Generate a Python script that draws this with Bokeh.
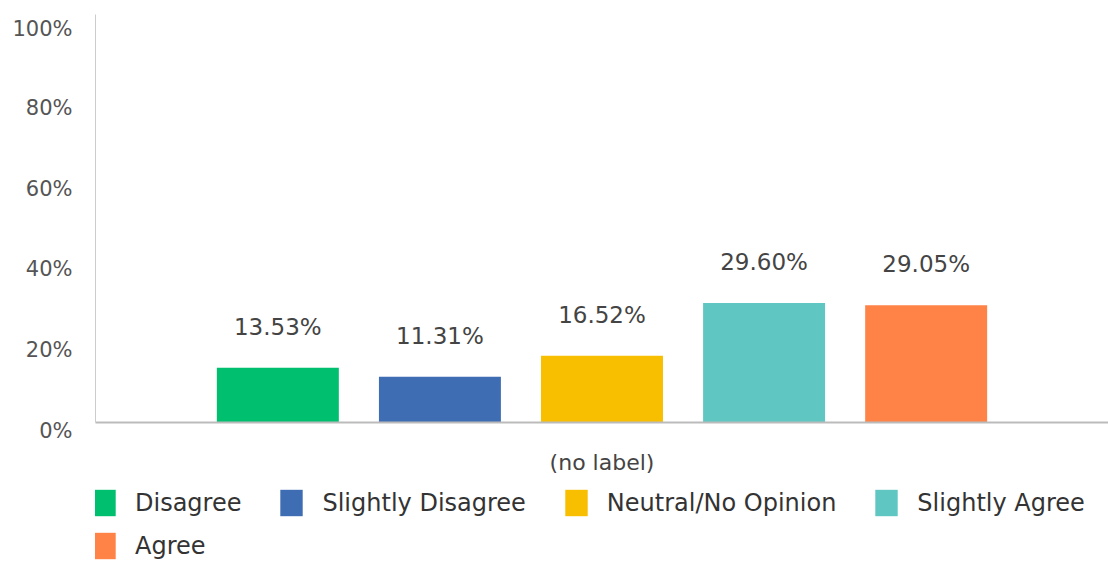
from bokeh.plotting import figure
from bokeh.layouts import column
from bokeh.models import Legend, LegendItem, Range1d, FactorRange, ColumnDataSource, FixedTicker, CustomJSTickFormatter
from bokeh.transform import dodge
from bokeh.core.properties import value
from bokeh.embed import file_html
from bokeh.resources import INLINE

categories = ["(no label)"]
series = ["Disagree", "Slightly Disagree", "Neutral/No Opinion", "Slightly Agree", "Agree"]
values = [13.53, 11.31, 16.52, 29.60, 29.05]
colors = ["#00BF6F", "#3F6DB3", "#F8BE00", "#5FC6C2", "#FF8246"]
yticks = [0, 20, 40, 60, 80, 100]

FONT = "DejaVu Sans"
step = 0.160
bar_w = 0.1204

p = figure(width=1108, height=484, output_backend="svg", toolbar_location=None,
           x_range=FactorRange(*categories, range_padding=0), y_range=Range1d(0, 101),
           min_border_left=95, min_border_right=0, min_border_top=14, min_border_bottom=62)
p.outline_line_color = None
p.xgrid.visible = False
p.ygrid.visible = False

for i, (s, v, c) in enumerate(zip(series, values, colors)):
    src = ColumnDataSource(dict(cat=categories, val=[v], txt=[f"{v:.2f}%"]))
    off = (i - 2) * step
    p.vbar(x=dodge("cat", off, range=p.x_range), top="val", width=bar_w, source=src,
           fill_color=c, line_color=None)
    p.text(x=dodge("cat", off, range=p.x_range), y="val", text="txt", source=src,
           y_offset=-41, text_align="center", text_baseline="middle",
           text_font=value(FONT), text_font_size="23px", text_color="#444444")

p.yaxis.ticker = FixedTicker(ticks=yticks)
# a leading empty line drops each label a little below its tick, as in the reference
p.yaxis.formatter = CustomJSTickFormatter(code="return '\\n' + tick + '%';")
p.yaxis.axis_line_color = "#cccccc"
p.yaxis.major_tick_line_color = None
p.yaxis.minor_tick_line_color = None
p.yaxis.major_label_standoff = 17
p.yaxis.major_label_text_line_height = 0.7
p.yaxis.major_label_text_font = FONT
p.yaxis.major_label_text_font_size = "21px"
p.yaxis.major_label_text_color = "#555555"

p.xaxis.axis_line_color = "#bbbbbb"
p.xaxis.axis_line_width = 2
p.xaxis.major_tick_line_color = None
p.xaxis.minor_tick_line_color = None
p.xaxis.major_label_standoff = 21
p.xaxis.major_label_text_font = FONT
p.xaxis.major_label_text_font_size = "22px"
p.xaxis.major_label_text_color = "#444444"

# legend strip below the chart (its frame is aligned with the chart frame)
lf = figure(width=1108, height=79, output_backend="svg", toolbar_location=None,
            x_range=Range1d(0, 1), y_range=Range1d(0, 1),
            x_axis_location=None, y_axis_location=None, min_border=0)
lf.outline_line_color = None
lf.xgrid.visible = False
lf.ygrid.visible = False

items = []
for s, c in zip(series, colors):
    # placeholder renderer outside the visible range; only its legend swatch shows
    r = lf.vbar(x=[5.0], top=[0.0], width=0.1, fill_color=c, line_color=None)
    items.append(LegendItem(label=s, renderers=[r]))

def make_legend(its, loc):
    return Legend(items=its, orientation="horizontal", location=loc,
                  glyph_width=28, glyph_height=33, label_standoff=17, spacing=36,
                  label_text_font=FONT, label_text_font_size="24px", label_text_color="#333333",
                  padding=0, margin=0, border_line_color=None, background_fill_alpha=0)

lf.add_layout(make_legend(items[:4], (-5, 44)))
lf.add_layout(make_legend(items[4:], (-5, 1)))

open("out.html", "w").write(file_html(column(p, lf, spacing=0), INLINE))
